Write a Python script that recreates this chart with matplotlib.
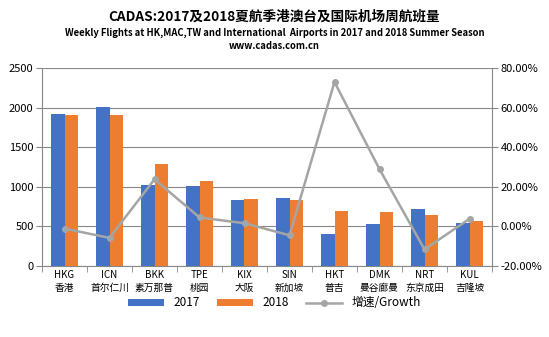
import matplotlib
matplotlib.use('Agg')
import matplotlib.pyplot as plt
import numpy as np

plt.rcParams['font.family'] = ['Noto Sans CJK SC', 'DejaVu Sans']

codes = ['HKG', 'ICN', 'BKK', 'TPE', 'KIX', 'SIN', 'HKT', 'DMK', 'NRT', 'KUL']
names = ['香港', '首尔仁川', '素万那普', '桃园', '大阪', '新加坡', '普吉', '曼谷廊曼', '东京成田', '吉隆坡']
flights_2017 = [1922, 2011, 1024, 1012, 835, 860, 405, 531, 721, 544]
flights_2018 = [1910, 1901, 1282, 1067, 847, 835, 700, 687, 645, 573]
growth = [-0.011, -0.058, 0.238, 0.045, 0.016, -0.045, 0.729, 0.289, -0.116, 0.038]

blue = '#4472C4'
orange = '#ED7D31'
gray = '#A5A5A5'

fig = plt.figure(figsize=(5.49, 3.37), dpi=100)
ax = fig.add_axes([42 / 549, 1 - 266 / 337, 450 / 549, 198 / 337])
x = np.arange(len(codes))
w = 0.29
ax.bar(x - w / 2, flights_2017, w, color=blue, label='2017', zorder=3)
ax.bar(x + w / 2, flights_2018, w, color=orange, label='2018', zorder=3)
ax.set_xlim(-0.5, len(codes) - 0.5)
ax.set_ylim(0, 2500)
ax.set_yticks(range(0, 2501, 500))
ax.yaxis.grid(True, color='#888888', linewidth=0.8, zorder=0)
ax.set_xticks(x)
ax.set_xticklabels([c + '\n' + n for c, n in zip(codes, names)], fontsize=7, linespacing=1.3)
ax.set_xticks(np.arange(-0.5, len(codes), 1), minor=True)
ax.tick_params(axis='x', which='major', length=0, pad=3)
ax.tick_params(axis='x', which='minor', length=4, color='#888888')
ax.tick_params(axis='y', labelsize=8, length=4, color='#888888', pad=2)
for s in ['top', 'right']:
    ax.spines[s].set_visible(False)
for s in ['left', 'bottom']:
    ax.spines[s].set_color('#888888')

ax2 = ax.twinx()
ax2.plot(x, growth, color=gray, linewidth=1.8, marker='o', markersize=4, label='增速/Growth', zorder=4)
ax2.set_ylim(-0.2, 0.8)
ax2.set_yticks(np.arange(-0.2, 0.81, 0.2))
ax2.set_yticklabels(['%.2f%%' % (v * 100) for v in np.arange(-0.2, 0.81, 0.2)])
ax2.tick_params(axis='y', labelsize=8, length=4, color='#888888', pad=2)
for s in ['top', 'left', 'bottom']:
    ax2.spines[s].set_visible(False)
ax2.spines['right'].set_color('#888888')

h1, l1 = ax.get_legend_handles_labels()
h2, l2 = ax2.get_legend_handles_labels()
fig.legend(h1 + h2, l1 + l2, loc='center', bbox_to_anchor=(0.5, 1 - 303 / 337), ncol=3,
           frameon=False, fontsize=8.5, handlelength=3, handleheight=0.5, columnspacing=1.5)

fig.text(0.5, 1 - 17 / 337, 'CADAS:2017及2018夏航季港澳台及国际机场周航班量', ha='center', va='center',
         fontsize=9.8, fontweight='bold')
fig.text(0.5, 1 - 33 / 337, 'Weekly Flights at HK,MAC,TW and International  Airports in 2017 and 2018 Summer Season',
         ha='center', va='center', fontsize=6.8, fontweight='bold')
fig.text(0.5, 1 - 46 / 337, 'www.cadas.com.cn', ha='center', va='center', fontsize=6.8, fontweight='bold')

fig.savefig('out.png', dpi=100)
